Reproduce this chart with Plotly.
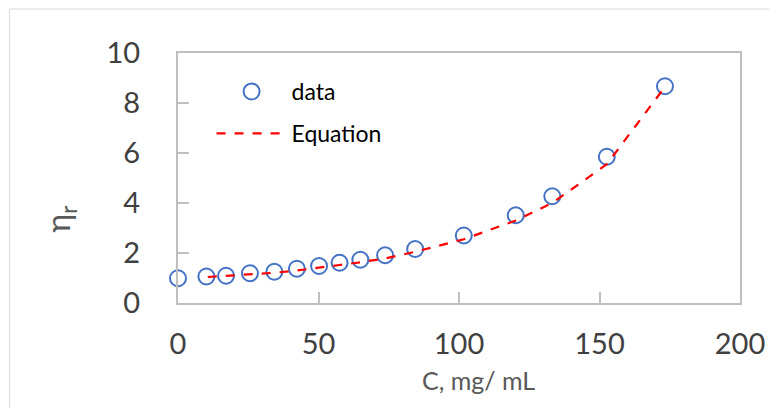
import plotly.graph_objects as go

# data
c_data = [0, 10.1, 17.1, 25.6, 34.3, 42.3, 50.2, 57.5, 64.9, 73.7, 84.4, 101.7, 120.2, 133.2, 152.6, 173.3]
eta_data = [0.99, 1.06, 1.09, 1.19, 1.25, 1.37, 1.48, 1.61, 1.73, 1.91, 2.16, 2.70, 3.51, 4.27, 5.85, 8.67]

c_eq = [10.6, 17.1, 25.6, 34.3, 42.3, 50.2, 57.5, 64.9, 73.7, 84.4, 101.7, 120.2, 133.2, 152.6, 174.0]
eta_eq = [1.04, 1.08, 1.14, 1.21, 1.30, 1.40, 1.52, 1.63, 1.78, 2.05, 2.55, 3.30, 4.00, 5.55, 8.75]

x_ticks = [0, 50, 100, 150, 200]
y_ticks = [0, 2, 4, 6, 8, 10]

FONT = "Lato"
GRAY_TXT = "#595959"
TICK_TXT = "#404040"
AXIS_COL = "#BFBFBF"

# page offset of the figure div (body margin)
OFF = 8

fig = go.Figure()
fig.add_trace(go.Scatter(
    x=c_data, y=eta_data, mode="markers", name="data", legendgroup="a",
    marker=dict(symbol="circle-open", size=16, color="#4472C4", line=dict(width=2, color="#4472C4")),
    cliponaxis=False,
))
fig.add_trace(go.Scatter(
    x=c_eq, y=eta_eq, mode="lines", name="Equation", legendgroup="b",
    line=dict(color="#FF0000", width=2.2, dash="dash"),
    cliponaxis=False,
))

W, H = 777 - OFF, 408 - OFF
# plot area in page coords: x 178..747, y 53..303
L, T = 178 - OFF, 53 - OFF
R = W - (747 - OFF)
B = H - (303 - OFF)
pw, ph = W - L - R, H - T - B


def px(xp):
    return (xp - 178) / pw


def py(yp):
    return (303 - yp) / ph


fig.update_layout(
    width=W, height=H,
    margin=dict(l=L, r=R, t=T, b=B),
    paper_bgcolor="white", plot_bgcolor="white",
    font=dict(family=FONT, color=GRAY_TXT),
    showlegend=True,
    legend=dict(
        x=px(212), y=py(70), xanchor="left", yanchor="top",
        bgcolor="rgba(0,0,0,0)", font=dict(size=23, color="black", family=FONT),
        itemwidth=70, tracegroupgap=9,
    ),
    xaxis=dict(
        range=[0, 200], tickvals=x_ticks, ticks="inside", ticklen=11, tickcolor=AXIS_COL,
        tickwidth=2, showline=True, linecolor=AXIS_COL, linewidth=2, mirror=True,
        showgrid=False, zeroline=False, tickfont=dict(size=29, color=TICK_TXT),
        ticklabelstandoff=14,
    ),
    yaxis=dict(
        range=[0, 10], tickvals=y_ticks, ticks="inside", ticklen=11, tickcolor=AXIS_COL,
        tickwidth=2, showline=True, linecolor=AXIS_COL, linewidth=2, mirror=True,
        showgrid=False, zeroline=False, tickfont=dict(size=29, color=TICK_TXT),
        ticklabelstandoff=30,
    ),
    annotations=[
        dict(text="C, mg/ mL", xref="paper", yref="paper", x=px(482), y=py(380),
             xanchor="center", yanchor="middle", showarrow=False,
             font=dict(size=25, color=GRAY_TXT, family=FONT)),
        dict(text="η<sub>r</sub>", xref="paper", yref="paper", x=px(59), y=py(219),
             xanchor="center", yanchor="middle", showarrow=False, textangle=-90,
             font=dict(size=32, color=GRAY_TXT, family=FONT)),
    ],
    shapes=[dict(
        type="rect", xref="paper", yref="paper",
        x0=px(OFF - 0.5), x1=px(777 + 20),
        y0=py(408 + 20), y1=py(OFF + 1),
        line=dict(color="#D9D9D9", width=1), fillcolor="rgba(0,0,0,0)", layer="below",
    )],
)

fig.write_html("out.html")
